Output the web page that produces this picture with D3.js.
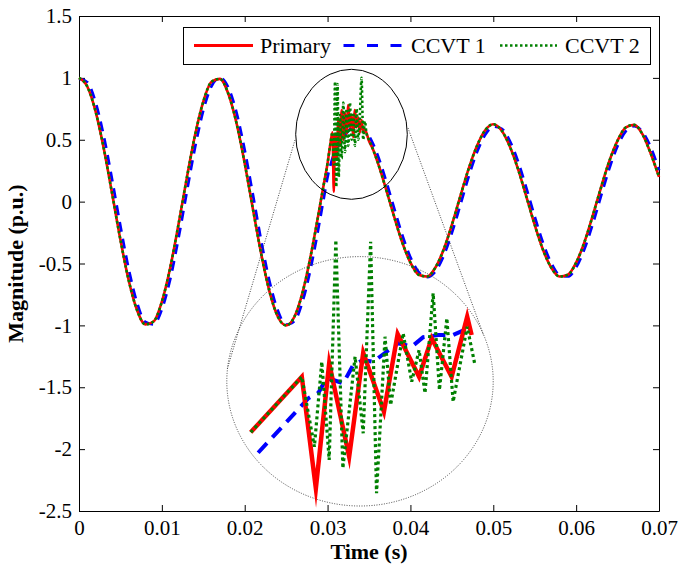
<!DOCTYPE html>
<html><head><meta charset="utf-8">
<script src="https://cdn.jsdelivr.net/npm/d3@7"></script>
<style>body{margin:0;background:#fff}svg{display:block}</style>
</head><body>
<svg id="chart" width="680" height="567"></svg>
<script>
// ---------- data ----------
const xTicks = [0, 0.01, 0.02, 0.03, 0.04, 0.05, 0.06, 0.07];
const xTickLabels = ["0", "0.01", "0.02", "0.03", "0.04", "0.05", "0.06", "0.07"];
const yTicks = [1.5, 1, 0.5, 0, -0.5, -1, -1.5, -2, -2.5];
const yTickLabels = ["1.5", "1", "0.5", "0", "-0.5", "-1", "-1.5", "-2", "-2.5"];
const seriesNames = ["Primary", "CCVT 1", "CCVT 2"];

const primaryT = [0,0.001,0.002,0.003,0.004,0.005,0.006,0.007,0.008,0.009,0.010,0.011,0.012,0.013,0.014,0.015,0.016,0.017,0.018,0.019,0.020,0.021,0.022,0.023,0.024,0.025,0.026,0.027,0.028,
  0.0285,0.029,0.0295,0.030,0.0303,0.0306,0.03075,0.0309,0.0311,0.0313,0.0315,0.0317,0.0319,0.0321,0.0323,0.0325,0.0327,0.0329,0.0331,0.0333,0.0335,0.0337,0.0339,0.0341,0.0343,0.0345,0.035,0.0355,0.036,0.0365,0.037,
  0.038,0.039,0.040,0.041,0.042,0.043,0.044,0.045,0.046,0.047,0.048,0.049,0.050,0.051,0.052,0.053,0.054,0.055,0.056,0.057,0.058,0.059,0.060,0.061,0.062,0.063,0.064,0.065,0.066,0.067,0.068,0.069,0.070];
const primaryV = [1,0.930,0.729,0.426,0.063,-0.309,-0.637,-0.876,-0.992,-0.969,-0.809,-0.536,-0.187,0.187,0.536,0.809,0.969,0.992,0.876,0.637,0.309,-0.063,-0.426,-0.729,-0.930,-1.0,-0.930,-0.729,-0.426,
  -0.249,-0.063,0.125,0.31,0.45,0.56,0.08,0.55,0.35,0.66,0.45,0.74,0.5,0.72,0.55,0.78,0.6,0.7,0.52,0.74,0.6,0.68,0.56,0.66,0.57,0.58,0.49,0.42,0.327,0.224,0.114,
  -0.114,-0.327,-0.493,-0.591,-0.605,-0.534,-0.389,-0.188,0.038,0.26,0.445,0.575,0.625,0.575,0.445,0.26,0.038,-0.188,-0.389,-0.534,-0.605,-0.591,-0.493,-0.327,-0.114,0.114,0.327,0.493,0.6,0.62,0.545,0.389,0.2];

const ccvt1T = [0,0.001,0.002,0.003,0.004,0.005,0.006,0.007,0.008,0.009,0.010,0.011,0.012,0.013,0.014,0.015,0.016,0.017,0.018,0.019,0.020,0.021,0.022,0.023,0.024,0.025,0.026,0.027,0.028,
  0.0285,0.029,0.0295,0.030,0.0305,0.031,0.0315,0.032,0.0325,0.033,0.0335,0.034,0.0345,0.035,0.0355,0.036,0.0365,0.037,
  0.038,0.039,0.040,0.041,0.042,0.043,0.044,0.045,0.046,0.047,0.048,0.049,0.050,0.051,0.052,0.053,0.054,0.055,0.056,0.057,0.058,0.059,0.060,0.061,0.062,0.063,0.064,0.065,0.066,0.067,0.068,0.069,0.070];
const ccvt1V = [0.994,0.965,0.802,0.526,0.175,-0.199,-0.546,-0.816,-0.972,-0.991,-0.870,-0.628,-0.297,0.075,0.437,0.737,0.934,1.0,0.925,0.721,0.415,0.051,-0.321,-0.647,-0.882,-0.994,-0.965,-0.802,-0.526,
  -0.357,-0.175,0.012,0.2,0.33,0.42,0.48,0.53,0.57,0.6,0.61,0.6,0.578,0.531,0.465,0.383,0.287,0.181,
  -0.046,-0.267,-0.45,-0.57,-0.61,-0.564,-0.44,-0.253,-0.031,0.196,0.395,0.538,0.606,0.589,0.489,0.321,0.107,-0.122,-0.333,-0.498,-0.593,-0.604,-0.531,-0.383,-0.181,0.046,0.267,0.45,0.57,0.61,0.564,0.44,0.253];

const ccvt2T = [0,0.001,0.002,0.003,0.004,0.005,0.006,0.007,0.008,0.009,0.010,0.011,0.012,0.013,0.014,0.015,0.016,0.017,0.018,0.019,0.020,0.021,0.022,0.023,0.024,0.025,0.026,0.027,0.028,
  0.0285,0.029,0.0295,0.030,0.0303,0.0306,0.03075,0.0309,0.03105,0.0312,0.03135,0.0315,0.0317,0.0319,0.0321,0.0323,0.0325,0.0327,0.0329,0.0331,0.0333,0.0335,0.0337,0.0339,0.0341,0.0343,0.0345,0.0347,0.035,0.0355,0.036,0.0365,0.037,
  0.038,0.039,0.040,0.041,0.042,0.043,0.044,0.045,0.046,0.047,0.048,0.049,0.050,0.051,0.052,0.053,0.054,0.055,0.056,0.057,0.058,0.059,0.060,0.061,0.062,0.063,0.064,0.065,0.066,0.067,0.068,0.069,0.070];
const ccvt2V = [1,0.930,0.729,0.426,0.063,-0.309,-0.637,-0.876,-0.992,-0.969,-0.809,-0.536,-0.187,0.187,0.536,0.809,0.969,0.992,0.876,0.637,0.309,-0.063,-0.426,-0.729,-0.930,-1.0,-0.930,-0.729,-0.426,
  -0.249,-0.063,0.125,0.31,0.45,0.56,0.3,0.97,0.12,0.95,0.2,0.7,0.35,0.8,0.4,0.75,0.45,0.8,0.5,0.72,0.45,0.75,0.5,0.7,1.0,0.5,0.65,0.55,0.5,0.42,0.327,0.224,0.114,
  -0.114,-0.327,-0.493,-0.591,-0.605,-0.534,-0.389,-0.188,0.038,0.26,0.445,0.575,0.625,0.575,0.445,0.26,0.038,-0.188,-0.389,-0.534,-0.605,-0.591,-0.493,-0.327,-0.114,0.114,0.327,0.493,0.6,0.62,0.545,0.389,0.2];

// zoomed inset (time in ms, relative magnitude)
const insetPrimaryT = [30.02,31.40,31.78,32.14,32.68,33.06,33.62,33.99,34.57,34.91,35.45,35.87,35.99];
const insetPrimaryV = [0.231,0.453,0.007,0.507,0.133,0.549,0.313,0.624,0.453,0.607,0.453,0.693,0.62];
const insetCcvt1T = [30.22,31.58,31.85,32.07,32.25,32.52,32.79,33.06,33.33,33.69,34.01,34.37,34.68,35.09,35.49,35.90];
const insetCcvt1V = [0.149,0.367,0.389,0.447,0.44,0.427,0.5,0.52,0.513,0.553,0.587,0.573,0.611,0.62,0.62,0.647];
const insetCcvt2T = [30.02,31.40,31.74,31.94,32.14,32.32,32.51,32.84,33.06,33.26,33.42,33.65,33.80,34.14,34.37,34.57,34.73,34.95,35.12,35.32,35.49,35.87,36.08];
const insetCcvt2V = [0.231,0.453,0.173,0.513,0.12,1.0,0.087,0.533,0.227,0.993,-0.013,0.613,0.34,0.627,0.433,0.56,0.387,0.787,0.4,0.687,0.353,0.653,0.5];

// ---------- chart ----------
const svg = d3.select("#chart");
const FONT = "'Liberation Serif','Times New Roman',serif";
const L = 79, R = 659, T = 16, B = 511;

const x = d3.scaleLinear().domain([0, 0.07]).range([L, R]);
const y = d3.scaleLinear().domain([-2.5, 1.5]).range([B, T]);

function styleAxis(g) {
  g.select(".domain").attr("stroke", "#000").attr("stroke-width", 1);
  g.selectAll(".tick line").attr("stroke", "#000").attr("stroke-width", 1);
  g.selectAll(".tick text").attr("font-family", FONT).attr("font-size", 21).attr("fill", "#000");
}

svg.append("g").attr("transform", `translate(0,${B})`)
  .call(d3.axisBottom(x).tickValues(xTicks).tickFormat((d, i) => xTickLabels[i]).tickSizeInner(-6).tickSizeOuter(0).tickPadding(9.5))
  .call(styleAxis);
svg.append("g").attr("transform", `translate(0,${T})`)
  .call(d3.axisTop(x).tickValues(xTicks).tickFormat("").tickSizeInner(-6).tickSizeOuter(0))
  .call(styleAxis);
svg.append("g").attr("transform", `translate(${L},0)`)
  .call(d3.axisLeft(y).tickValues(yTicks).tickFormat((d, i) => yTickLabels[i]).tickSizeInner(-6).tickSizeOuter(0).tickPadding(7))
  .call(styleAxis);
svg.append("g").attr("transform", `translate(${R},0)`)
  .call(d3.axisRight(y).tickValues(yTicks).tickFormat("").tickSizeInner(-6).tickSizeOuter(0))
  .call(styleAxis);

// axis titles
svg.append("text").attr("x", (L + R) / 2).attr("y", 559).attr("text-anchor", "middle")
  .attr("font-family", FONT).attr("font-weight", "bold").attr("font-size", 22).text("Time (s)");
svg.append("text").attr("transform", `translate(23,${(T + B) / 2}) rotate(-90)`).attr("text-anchor", "middle")
  .attr("font-family", FONT).attr("font-weight", "bold").attr("font-size", 22).text("Magnitude (p.u.)");

// main lines
const mk = (tArr, vArr) => tArr.map((t, i) => [t, vArr[i]]);
const line = d3.line().x(d => x(d[0])).y(d => y(d[1])).curve(d3.curveMonotoneX);

svg.append("path").datum(mk(ccvt1T, ccvt1V)).attr("d", line).attr("fill", "none")
  .attr("stroke", "#0000ff").attr("stroke-width", 2.8).attr("stroke-dasharray", "10,7");
svg.append("path").datum(mk(primaryT, primaryV)).attr("d", line).attr("fill", "none")
  .attr("stroke", "#ff0000").attr("stroke-width", 2.6);
svg.append("path").datum(mk(ccvt2T, ccvt2V)).attr("d", line).attr("fill", "none")
  .attr("stroke", "#008000").attr("stroke-width", 2.6).attr("stroke-dasharray", "2.5,2.5");

// zoom markers
svg.append("ellipse").attr("cx", 351.5).attr("cy", 134.3).attr("rx", 55.8).attr("ry", 65)
  .attr("fill", "none").attr("stroke", "#000").attr("stroke-width", 1);
svg.append("ellipse").attr("cx", 360).attr("cy", 381.3).attr("rx", 133.2).attr("ry", 124.7)
  .attr("fill", "none").attr("stroke", "#444").attr("stroke-width", 1).attr("stroke-dasharray", "1,1.5");
svg.append("line").attr("x1", 295).attr("y1", 140).attr("x2", 227).attr("y2", 370)
  .attr("stroke", "#444").attr("stroke-width", 1).attr("stroke-dasharray", "1,1.5");
svg.append("line").attr("x1", 408).attr("y1", 128).attr("x2", 483.5).attr("y2", 335)
  .attr("stroke", "#444").attr("stroke-width", 1).attr("stroke-dasharray", "1,1.5");

// inset
const ix = d3.scaleLinear().domain([30, 36]).range([250, 472]);
const iy = d3.scaleLinear().domain([0, 1]).range([490, 240]);
const iline = d3.line().x(d => ix(d[0])).y(d => iy(d[1])).curve(d3.curveLinear);

svg.append("path").datum(mk(insetCcvt1T, insetCcvt1V)).attr("d", iline).attr("fill", "none")
  .attr("stroke", "#0000ff").attr("stroke-width", 4).attr("stroke-dasharray", "13,8");
svg.append("path").datum(mk(insetPrimaryT, insetPrimaryV)).attr("d", iline).attr("fill", "none")
  .attr("stroke", "#ff0000").attr("stroke-width", 4.5).attr("stroke-linejoin", "miter").attr("stroke-miterlimit", 10);
svg.append("path").datum(mk(insetCcvt2T, insetCcvt2V)).attr("d", iline).attr("fill", "none")
  .attr("stroke", "#008000").attr("stroke-width", 3.2).attr("stroke-dasharray", "3,3");

// legend
const lg = svg.append("g");
lg.append("rect").attr("x", 183.5).attr("y", 27.5).attr("width", 467).attr("height", 37)
  .attr("fill", "#fff").attr("stroke", "#000").attr("stroke-width", 1);
const legendItems = [
  { name: seriesNames[0], x1: 194, x2: 253, tx: 260, color: "#ff0000", dash: null, w: 3 },
  { name: seriesNames[1], x1: 343.5, x2: 403, tx: 411, color: "#0000ff", dash: "11,12.5", w: 3 },
  { name: seriesNames[2], x1: 500, x2: 557, tx: 565, color: "#008000", dash: "2.5,2.5", w: 2.6 }
];
legendItems.forEach(it => {
  const l = lg.append("line").attr("x1", it.x1).attr("x2", it.x2).attr("y1", 45.5).attr("y2", 45.5)
    .attr("stroke", it.color).attr("stroke-width", it.w);
  if (it.dash) l.attr("stroke-dasharray", it.dash);
  lg.append("text").attr("x", it.tx).attr("y", 53).attr("font-family", FONT).attr("font-size", 22)
    .attr("fill", "#000").text(it.name);
});
</script>
</body></html>
